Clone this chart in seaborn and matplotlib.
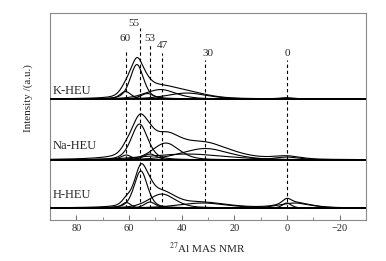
import numpy as np
import pandas as pd
import matplotlib
matplotlib.use("Agg")
import matplotlib.pyplot as plt
import seaborn as sns

# fitted components: centre (ppm), height, FWHM (ppm)
samples = ["K-HEU", "Na-HEU", "H-HEU"]
baselines = [121, 60, 12]

k_centers = [61.3, 57.0, 53.0, 48.0, 38.0, 0.0]
k_heights = [7.5, 34.5, 5.5, 9.5, 6.0, 1.0]
k_widths = [5.0, 6.0, 6.0, 14.0, 18.0, 6.0]

na_centers = [61.0, 56.0, 52.0, 46.0, 31.0, 38.0, 0.0]
na_heights = [5.0, 36.0, 6.0, 17.0, 11.5, 6.0, 3.0]
na_widths = [5.0, 7.5, 6.0, 12.0, 22.0, 35.0, 12.0]

h_centers = [61.0, 55.5, 52.0, 47.5, 32.0, 0.0, -3.0]
h_heights = [5.5, 37.0, 6.0, 14.0, 5.0, 5.0, 5.0]
h_widths = [4.0, 6.0, 5.0, 12.0, 22.0, 4.0, 14.0]

lorentz_frac = 0.4

peak_marks = [61.0, 56.0, 52.0, 47.5, 31.0, 0.0]
peak_labels = ["60", "55", "53", "47", "30", "0"]
mark_tops = [170, 192, 177, 167, 160, 160]
label_x = [61.3, 58.2, 52.0, 47.2, 29.8, 0.0]
label_y = [182, 197, 182, 175, 167, 167]


def pseudo_voigt(x, c, h, w):
    g = np.exp(-4 * np.log(2) * ((x - c) / w) ** 2)
    lo = 1 / (1 + 4 * ((x - c) / w) ** 2)
    return h * (lorentz_frac * lo + (1 - lorentz_frac) * g)


def main():
    sns.set_theme(style="ticks")
    plt.rcParams["font.family"] = ["Liberation Serif", "DejaVu Serif"]
    plt.rcParams["mathtext.fontset"] = "stix"

    x = np.linspace(90, -30, 600)
    params = [
        (k_centers, k_heights, k_widths),
        (na_centers, na_heights, na_widths),
        (h_centers, h_heights, h_widths),
    ]
    rows = []
    for name, base, (cs, hs, ws) in zip(samples, baselines, params):
        total = np.zeros_like(x)
        for i, (c, h, w) in enumerate(zip(cs, hs, ws)):
            y = pseudo_voigt(x, c, h, w)
            total += y
            rows.append(pd.DataFrame({"ppm": x, "y": y + base, "curve": f"{name}_{i}"}))
        rows.append(pd.DataFrame({"ppm": x, "y": total + base, "curve": f"{name}_sum"}))
    df = pd.concat(rows, ignore_index=True)

    fig = plt.figure(figsize=(3.86, 2.61), dpi=100)
    ax = fig.add_axes([0.1295, 0.157, 0.8185, 0.793])

    sns.lineplot(data=df, x="ppm", y="y", units="curve", estimator=None,
                 color="black", linewidth=0.8, ax=ax, legend=False)

    for base in baselines:
        ax.axhline(base, color="black", linewidth=1.2, zorder=3)

    for pos, top, lab, lx, ly in zip(peak_marks, mark_tops, peak_labels, label_x, label_y):
        ax.plot([pos, pos], [baselines[-1], top], color="black", linestyle=(0, (3, 2.5)),
                linewidth=0.8)
        ax.text(lx, ly, lab, ha="center", va="center", fontsize=8)

    label_pos = [129, 74, 25]
    for name, ly in zip(samples, label_pos):
        ax.text(89.0, ly, name, ha="left", va="center", fontsize=9)

    ax.set_xlim(90, -30)
    ax.set_ylim(0, 207)
    ax.set_xticks([80, 60, 40, 20, 0, -20])
    ax.set_xticklabels(["80", "60", "40", "20", "0", "\u221220"])
    ax.set_xticks(np.arange(-30, 91, 10), minor=True)
    ax.set_yticks([])
    ax.tick_params(axis="x", which="major", direction="in", length=3.5, width=0.8,
                   color="#777777", labelsize=7.5, pad=3)
    ax.tick_params(axis="x", which="minor", direction="in", length=2, width=0.6,
                   color="#777777")
    for sp in ax.spines.values():
        sp.set_color("#8a8a8a")
        sp.set_linewidth(0.8)

    ax.set_xlabel("")
    ax.set_ylabel("")
    fig.text(0.536, 0.05, "$^{27}$Al MAS NMR", ha="center", va="center", fontsize=8)
    fig.text(0.073, 0.625, "Intensity /(a.u.)", ha="center", va="center",
             rotation=90, fontsize=8)

    fig.savefig("out.png", dpi=100)
    plt.close(fig)


if __name__ == "__main__":
    main()
